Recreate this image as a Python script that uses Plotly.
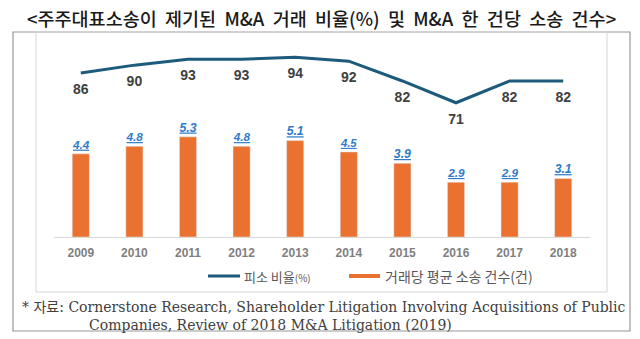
import plotly.graph_objects as go

years = ["2009", "2010", "2011", "2012", "2013", "2014", "2015", "2016", "2017", "2018"]
suit_rate = [86, 90, 93, 93, 94, 92, 82, 71, 82, 82]
suits_per_deal = [4.4, 4.8, 5.3, 4.8, 5.1, 4.5, 3.9, 2.9, 2.9, 3.1]

title_text = "<주주대표소송이  제기된  M&A  거래  비율(%)  및  M&A  한  건당  소송  건수>"
legend_line = "피소 비율"
legend_bar = "거래당 평균 소송 건수(건)"
note1 = "* 자료: Cornerstone Research, Shareholder Litigation Involving Acquisitions of Public"
note2 = "Companies, Review of 2018 M&A Litigation (2019)"

W, H = 640, 339
ML, MR, MT, MB = 54, 50, 40, 102
PW, PH = W - ML - MR, H - MT - MB

def px(x):
    return (x - ML) / PW

def py(y):
    return (H - MB - y) / PH

LINE_C = "#1C5B7B"
BAR_C = "#EB7131"
LBL_C = "#2F7BC8"

fig = go.Figure()
fig.add_trace(go.Bar(
    x=years, y=suits_per_deal, name=legend_bar, marker_color=BAR_C, width=0.32,
    text=[f"<i><b><u>{v:.1f}</u></b></i>" for v in suits_per_deal],
    textposition="outside", cliponaxis=False,
    textfont=dict(family="Liberation Sans", size=16, color=LBL_C),
    showlegend=False,
))
fig.add_trace(go.Scatter(
    x=years, y=suit_rate, name=legend_line, yaxis="y2", mode="lines+markers+text",
    line=dict(color=LINE_C, width=3),
    marker=dict(size=15, color="rgba(0,0,0,0)"),
    text=[f"<b>{v}</b>" for v in suit_rate], textposition="bottom center",
    textfont=dict(family="Liberation Sans", size=14, color="#404040"),
    cliponaxis=False, showlegend=False,
))

shapes = [
    dict(type="rect", xref="paper", yref="paper", x0=px(13), x1=px(630), y0=py(32), y1=py(331),
         line=dict(color="#989898", width=1.2), layer="below"),
    dict(type="rect", xref="paper", yref="paper", x0=px(36), x1=px(607), y0=py(32), y1=py(292),
         line=dict(color="#D6D6D6", width=1), layer="below"),
    dict(type="line", xref="paper", yref="paper", x0=px(208), x1=px(240), y0=py(276), y1=py(276),
         line=dict(color=LINE_C, width=3)),
    dict(type="rect", xref="paper", yref="paper", x0=px(349), x1=px(380), y0=py(278), y1=py(274),
         line=dict(width=0), fillcolor=BAR_C),
]

annotations = [
    dict(text=title_text, xref="paper", yref="paper", x=px(321), y=py(18), showarrow=False,
         font=dict(family="Noto Sans CJK KR", size=18.5, color="#1A1A1A", weight=500), xanchor="center", yanchor="middle"),
    dict(text=legend_line + "<span style='font-size:10px'>(%)</span>", xref="paper", yref="paper",
         x=px(242), y=py(276), showarrow=False, xanchor="left", yanchor="middle",
         font=dict(family="Noto Sans CJK KR", size=13, color="#595959")),
    dict(text=legend_bar, xref="paper", yref="paper",
         x=px(383), y=py(276), showarrow=False, xanchor="left", yanchor="middle",
         font=dict(family="Noto Sans CJK KR", size=14, color="#595959")),
    dict(text=note1, xref="paper", yref="paper", x=px(20), y=py(307), showarrow=False,
         xanchor="left", yanchor="middle", font=dict(family="DejaVu Serif, Noto Sans CJK KR", size=14, color="#404040")),
    dict(text=note2, xref="paper", yref="paper", x=px(87), y=py(325), showarrow=False,
         xanchor="left", yanchor="middle", font=dict(family="DejaVu Serif", size=14, color="#404040")),
]

fig.update_layout(
    width=W, height=H, margin=dict(l=ML, r=MR, t=MT, b=MB),
    paper_bgcolor="white", plot_bgcolor="white",
    xaxis=dict(type="category", range=[-0.5, 9.5], showgrid=False, showline=True, linecolor="#D9D9D9",
               linewidth=1, ticks="", ticklabelstandoff=5,
               tickfont=dict(family="Liberation Sans", size=12, color="#7F7F7F", weight="bold")),
    yaxis=dict(range=[0, PH / 18.9], visible=False, showgrid=False),
    yaxis2=dict(range=[3.2, 102.7], overlaying="y", visible=False, showgrid=False),
    shapes=shapes, annotations=annotations, bargap=0.5,
)
fig.write_html("out.html")
